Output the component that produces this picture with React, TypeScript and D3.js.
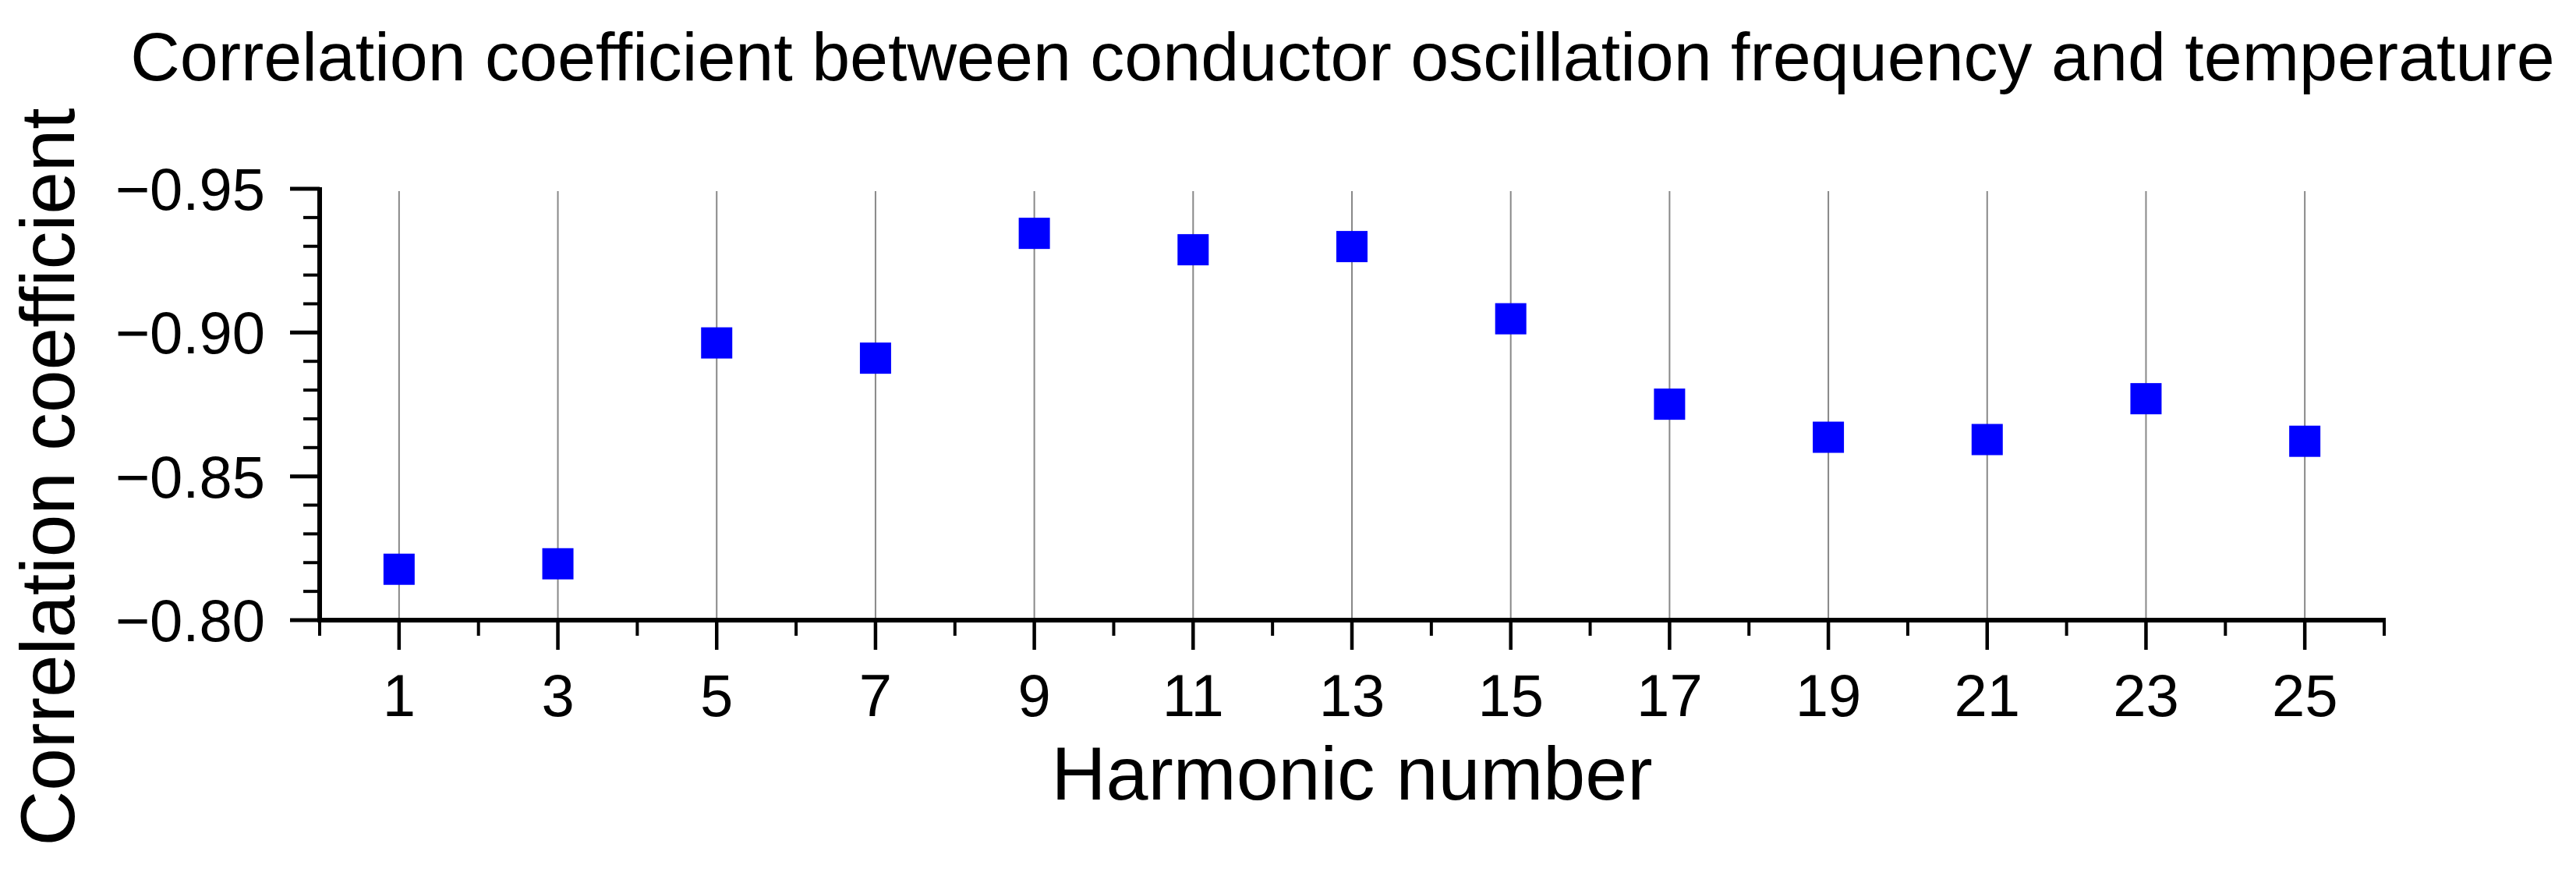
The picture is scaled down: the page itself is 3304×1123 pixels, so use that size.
import React, { useEffect } from "react";
import * as d3 from "d3";

const harmonics = [1, 3, 5, 7, 9, 11, 13, 15, 17, 19, 21, 23, 25];
const correlation = [
  -0.8177, -0.8196, -0.8964, -0.8911, -0.9345, -0.9288, -0.9299, -0.9048,
  -0.8751, -0.8636, -0.8628, -0.877, -0.8622,
];
const xMajorTicks = [1, 3, 5, 7, 9, 11, 13, 15, 17, 19, 21, 23, 25];
const xMinorTicks = [0, 2, 4, 6, 8, 10, 12, 14, 16, 18, 20, 22, 24, 26];
const yMajorTicks = [-0.95, -0.9, -0.85, -0.8];
const yMinorTicks = [
  -0.94, -0.93, -0.92, -0.91, -0.89, -0.88, -0.87, -0.86, -0.84, -0.83, -0.82,
  -0.81,
];
const titleText =
  "Correlation coefficient between conductor oscillation frequency and temperature";
const xLabel = "Harmonic number";
const yLabel = "Correlation coefficient";

const W = 3304;
const H = 1123;
const left = 410;
const right = 3058;
const top = 242;
const bottom = 795;
const FONT = "'Liberation Sans', Arial, Helvetica, sans-serif";

export default function App() {
  useEffect(() => {
    document.body.style.margin = "0";
  }, []);

  const x = d3.scaleLinear().domain([0, 26]).range([left, right]);
  const y = d3.scaleLinear().domain([-0.8, -0.95]).range([bottom, top]);
  const fmt = d3.format(".2f");
  const ms = 40;

  return (
    <svg
      width={W}
      height={H}
      viewBox={`0 0 ${W} ${H}`}
      style={{ display: "block", background: "#fff" }}
      fontFamily={FONT}
    >
      <rect x={0} y={0} width={W} height={H} fill="#fff" />
      {/* title */}
      <text x={1722} y={103} fontSize={88} textAnchor="middle" fill="#000">
        {titleText}
      </text>
      {/* grid lines */}
      {xMajorTicks.map((t) => (
        <line
          key={"g" + t}
          x1={x(t)}
          x2={x(t)}
          y1={y(-0.95) + 3}
          y2={bottom}
          stroke="#888888"
          strokeWidth={2}
        />
      ))}
      {/* markers */}
      {harmonics.map((h, i) => (
        <rect
          key={"m" + h}
          x={x(h) - ms / 2}
          y={y(correlation[i]) - ms / 2}
          width={ms}
          height={ms}
          fill="#0000ff"
        />
      ))}
      {/* axes */}
      <line x1={left} x2={left} y1={top - 2} y2={bottom} stroke="#000" strokeWidth={6} />
      <line x1={left - 3} x2={right + 2} y1={bottom} y2={bottom} stroke="#000" strokeWidth={6} />
      {/* y ticks */}
      {yMajorTicks.map((t) => (
        <g key={"yt" + t}>
          <line x1={left - 38} x2={left} y1={y(t)} y2={y(t)} stroke="#000" strokeWidth={5} />
          <text x={340} y={y(t) + 27} fontSize={76} textAnchor="end" fill="#000">
            {fmt(t)}
          </text>
        </g>
      ))}
      {yMinorTicks.map((t) => (
        <line key={"ym" + t} x1={left - 21} x2={left} y1={y(t)} y2={y(t)} stroke="#000" strokeWidth={4} />
      ))}
      {/* x ticks */}
      {xMajorTicks.map((t) => (
        <g key={"xt" + t}>
          <line x1={x(t)} x2={x(t)} y1={bottom} y2={bottom + 38} stroke="#000" strokeWidth={4.5} />
          <text x={x(t)} y={918} fontSize={76} textAnchor="middle" fill="#000">
            {t}
          </text>
        </g>
      ))}
      {xMinorTicks.map((t) => (
        <line key={"xm" + t} x1={x(t)} x2={x(t)} y1={bottom} y2={bottom + 20} stroke="#000" strokeWidth={4} />
      ))}
      {/* axis labels */}
      <text x={(left + right) / 2} y={1025} fontSize={97} textAnchor="middle" fill="#000">
        {xLabel}
      </text>
      <text
        transform={`translate(95, ${(140 + 1083) / 2}) rotate(-90)`}
        fontSize={98}
        textAnchor="middle"
        fill="#000"
      >
        {yLabel}
      </text>
    </svg>
  );
}
